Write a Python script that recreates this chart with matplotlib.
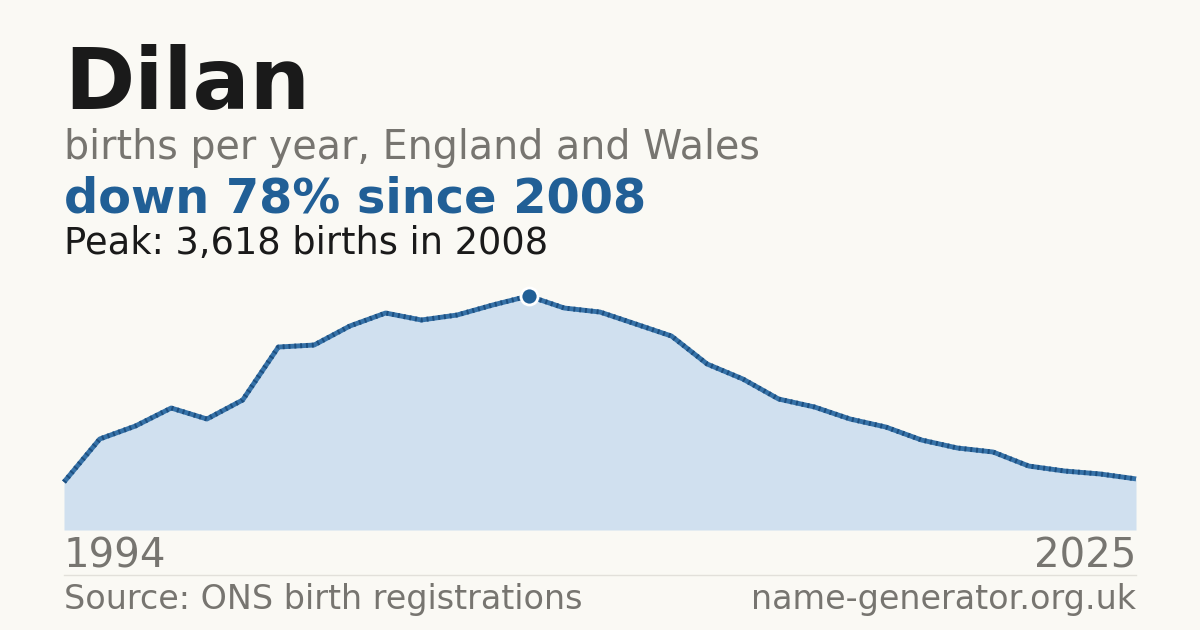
import matplotlib
matplotlib.use("Agg")
import matplotlib.pyplot as plt

values = [742,1407,1608,1886,1716,2010,2829,2860,3154,3355,3247,3324,3479,3618,3432,3370,
          3185,2999,2566,2334,2025,1902,1716,1592,1391,1268,1206,989,912,866,790]
idx = list(range(len(values)))
peak_i = values.index(max(values))
start_label, end_label = "1994", "2025"

W, H = 1200, 630
bg = "#faf9f4"
fig = plt.figure(figsize=(W/100, H/100), dpi=100, facecolor=bg)
ax = fig.add_axes([64/W, 1-530/H, (1136-64)/W, (530-296)/H])
ax.set_facecolor(bg)
ax.fill_between(idx, values, 0, color="#d0e0ef", lw=0, clip_on=False)
ax.plot(idx, values, color="#3672a8", lw=3.5, solid_capstyle="butt", clip_on=False)
ax.plot(idx, values, color="#1d4f80", lw=3.5, ls=(0, (0.4, 0.8)), clip_on=False)
ax.scatter([peak_i], [values[peak_i]], s=150, color="#215f96", edgecolor="white", lw=2, zorder=5, clip_on=False)
ax.set_xlim(0, len(values)-1)
ax.set_ylim(0, max(values))
ax.axis("off")

def t(x, y, s, **kw):
    fig.text(x/W, 1-y/H, s, **kw)

t(64, 86, "Dilan", fontsize=61, fontweight="bold", color="#1a1a1a", va="center")
t(64, 148, "births per year, England and Wales", fontsize=28.5, color="#777570", va="center")
t(64, 199, "down 78% since 2008", fontsize=34.5, fontweight="bold", color="#215f96", va="center")
t(64, 243, "Peak: 3,618 births in 2008", fontsize=26.5, color="#1a1a1a", va="center")
t(64, 557, start_label, fontsize=29, color="#777570", va="center")
t(1136, 557, end_label, fontsize=29, color="#777570", va="center", ha="right")
t(64, 600, "Source: ONS birth registrations", fontsize=24, color="#777570", va="center")
t(1136, 600, "name-generator.org.uk", fontsize=24, color="#777570", va="center", ha="right")
fig.add_artist(plt.Line2D([64/W, 1136/W], [1-575/H, 1-575/H], color="#e2e0da", lw=1))
fig.savefig("out.png", dpi=100, facecolor=bg)
